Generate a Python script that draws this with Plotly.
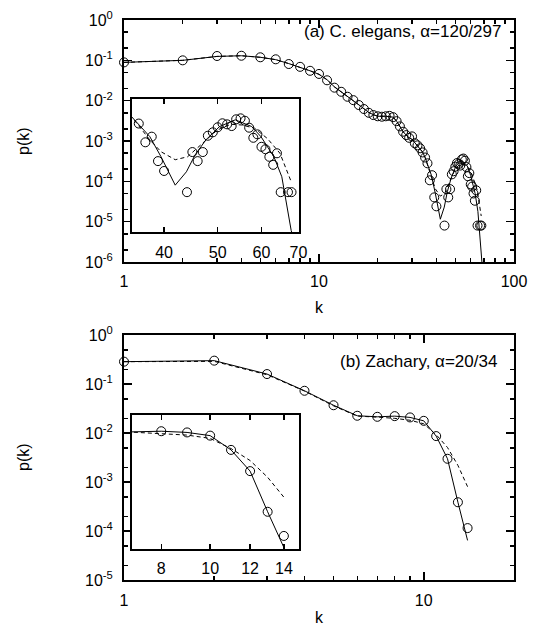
import math
import plotly.graph_objects as go

# ---------------- Panel (a): C. elegans ----------------
ce_k = [1, 2, 3, 4, 5, 6, 7, 8, 9, 10, 11, 12, 13, 14, 15, 16, 17, 18, 19, 20,
        21, 22, 23, 24, 25, 26, 27, 28, 29, 30, 31, 32, 33, 34, 35, 36, 37, 38, 39, 40,
        44, 45, 46, 47, 48, 49, 50, 51, 52, 53, 54, 55, 56, 57, 58, 59, 60, 61, 62, 63,
        64, 65, 67, 68]
ce_p = [0.089, 0.100, 0.128, 0.130, 0.119, 0.106, 0.081, 0.069, 0.055, 0.046,
        0.032, 0.021, 0.0166, 0.0125, 0.0103, 0.0078, 0.0062, 0.0050, 0.0044, 0.0041,
        0.0040, 0.0041, 0.0042, 0.0039, 0.0031, 0.0023, 0.0017, 0.0014, 0.0012, 0.0013,
        8.8e-4, 7.8e-4, 6.6e-4, 5.2e-4, 3.9e-4, 2.8e-4, 1.06e-4, 1.42e-4, 4.0e-5, 2.4e-5,
        8.0e-6, 6.4e-5, 4.0e-5, 6.4e-5, 1.49e-4, 1.78e-4, 2.31e-4, 2.84e-4, 2.69e-4, 2.46e-4,
        3.49e-4, 3.67e-4, 3.24e-4, 2.26e-4, 1.34e-4, 1.60e-4, 8.4e-5, 7.4e-5, 5.0e-5, 3.3e-5,
        6.0e-5, 8.0e-6, 8.0e-6, 8.0e-6]

ce_solid_k = [1, 2, 3, 4, 5, 6, 7, 8, 9, 10, 11, 12, 13, 14, 15, 16, 17, 18, 19, 20,
              22, 24, 25, 26, 27, 28, 29, 30, 31, 32, 33, 34, 35, 37.7, 39.5, 41.9, 43.9,
              45.5, 47.6, 50.4, 53.8, 57.6, 59.9, 63.2, 65.3, 67.9, 69.5]
ce_solid_p = [0.089, 0.100, 0.125, 0.130, 0.119, 0.104, 0.083, 0.068, 0.055, 0.045,
              0.033, 0.022, 0.0167, 0.0127, 0.0102, 0.0079, 0.0063, 0.0051, 0.0045, 0.0041,
              0.0041, 0.0039, 0.0031, 0.0023, 0.0017, 0.0014, 0.0012, 0.0011, 9.2e-4, 7.8e-4,
              6.6e-4, 5.3e-4, 3.9e-4, 1.42e-4, 5.0e-5, 1.15e-5, 2.3e-5,
              5.5e-5, 1.2e-4, 2.4e-4, 3.4e-4, 2.4e-4, 1.41e-4, 5.0e-5, 1.78e-5, 1.1e-6, 4e-7]

ce_dash_k = [1, 2, 3, 4, 5, 6, 7, 8, 9, 10, 11, 12, 13, 14, 15, 16, 17, 18, 19, 20,
             22, 24, 25, 26, 27, 28, 29, 30, 31, 32, 33, 34, 35, 37.7, 39.5, 41.9, 44.1,
             46.9, 49.9, 52.8, 55.3, 58.3, 61.5, 64.8, 67.9]
ce_dash_p = [0.089, 0.100, 0.125, 0.130, 0.119, 0.104, 0.083, 0.068, 0.055, 0.045,
             0.033, 0.022, 0.0167, 0.0127, 0.0102, 0.0079, 0.0063, 0.0051, 0.0045, 0.0041,
             0.0041, 0.0039, 0.0031, 0.0023, 0.0017, 0.0014, 0.0012, 0.0011, 9.2e-4, 7.8e-4,
             6.6e-4, 5.3e-4, 3.9e-4, 1.2e-4, 6.5e-5, 4.3e-5, 5.0e-5,
             1.0e-4, 2.0e-4, 2.7e-4, 2.6e-4, 2.2e-4, 1.29e-4, 6.0e-5, 1.38e-5]

# ---------------- Panel (b): Zachary ----------------
za_k = [1, 2, 3, 4, 5, 6, 7, 8, 9, 10, 11, 12, 13, 14]
za_p = [0.286, 0.30, 0.16, 0.073, 0.037, 0.0226, 0.0215, 0.0222, 0.0209, 0.0178,
        0.0087, 0.0030, 3.9e-4, 1.16e-4]
za_solid_k = [1, 2, 3, 4, 5, 6, 7, 8, 9, 10, 11, 12, 13, 14]
za_solid_p = [0.286, 0.30, 0.16, 0.073, 0.037, 0.0226, 0.0215, 0.0222, 0.0209, 0.0178,
              0.0087, 0.0030, 3.9e-4, 6.5e-5]
za_dash_k = [1, 2, 3, 4, 5, 6, 7, 8, 9, 10, 11, 12, 13, 14]
za_dash_p = [0.286, 0.29, 0.155, 0.072, 0.036, 0.0222, 0.0212, 0.0200, 0.0183, 0.0155,
             0.0093, 0.0051, 0.0022, 8.1e-4]

# ---------------- Ticks / labels ----------------
xa_ticks = [1, 10, 100]
xa_text = ["1", "10", "100"]
ya_exps = [0, -1, -2, -3, -4, -5, -6]
inset_a_ticks = [40, 50, 60, 70]
xb_ticks = [1, 10]
xb_text = ["1", "10"]
yb_exps = [0, -1, -2, -3, -4, -5]
inset_b_ticks = [8, 10, 12, 14]
label_a = "(a) C. elegans, \u03b1=120/297"
label_b = "(b) Zachary, \u03b1=20/34"

W, H = 539, 629
FONT = "Liberation Sans, Arial, sans-serif"


def fx(px):
    return px / W


def fy(py):
    return 1 - py / H


def minor_x(lo, hi):
    vals = []
    for d in range(lo, hi):
        for m in range(2, 10):
            vals.append(m * 10 ** d)
    return vals


def minor_y(lo, hi):
    vals = []
    for d in range(lo, hi):
        for m in (2, 5):
            vals.append(m * 10 ** d)
    return vals


fig = go.Figure()

circ = dict(symbol="circle-open", size=9, color="black", line=dict(width=1, color="black"))
solid = dict(color="black", width=1)
dashed = dict(color="black", width=1, dash="4px,3px")

# main (a)
fig.add_trace(go.Scatter(x=ce_solid_k, y=ce_solid_p, mode="lines", line=solid, xaxis="x", yaxis="y"))
fig.add_trace(go.Scatter(x=ce_dash_k, y=ce_dash_p, mode="lines", line=dashed, xaxis="x", yaxis="y"))
fig.add_trace(go.Scatter(x=ce_k, y=ce_p, mode="markers", marker=circ, cliponaxis=False, xaxis="x", yaxis="y"))

# inset (a)
ia_k = [k for k in ce_k if k >= 35]
ia_p = [p for k, p in zip(ce_k, ce_p) if k >= 35]
fig.add_trace(go.Scatter(x=ce_solid_k, y=ce_solid_p, mode="lines", line=solid, xaxis="x2", yaxis="y2"))
fig.add_trace(go.Scatter(x=ce_dash_k, y=ce_dash_p, mode="lines", line=dashed, xaxis="x2", yaxis="y2"))
fig.add_trace(go.Scatter(x=ia_k, y=ia_p, mode="markers", marker=circ, cliponaxis=False, xaxis="x2", yaxis="y2"))

# main (b)
fig.add_trace(go.Scatter(x=za_solid_k, y=za_solid_p, mode="lines", line=solid, xaxis="x3", yaxis="y3"))
fig.add_trace(go.Scatter(x=za_dash_k, y=za_dash_p, mode="lines", line=dashed, xaxis="x3", yaxis="y3"))
fig.add_trace(go.Scatter(x=za_k, y=za_p, mode="markers", marker=circ, cliponaxis=False, xaxis="x3", yaxis="y3"))

# inset (b)
ib_k = [k for k in za_k if k >= 7]
ib_p = [p for k, p in zip(za_k, za_p) if k >= 7]
fig.add_trace(go.Scatter(x=za_solid_k, y=za_solid_p, mode="lines", line=solid, xaxis="x4", yaxis="y4"))
fig.add_trace(go.Scatter(x=za_dash_k, y=za_dash_p, mode="lines", line=dashed, xaxis="x4", yaxis="y4"))
fig.add_trace(go.Scatter(x=ib_k, y=ib_p, mode="markers", marker=circ, cliponaxis=False, xaxis="x4", yaxis="y4"))

common = dict(showline=True, linecolor="black", linewidth=2, showgrid=False, zeroline=False,
              ticks="inside", tickcolor="black", tickwidth=1.5, automargin=False,
              tickfont=dict(family=FONT, size=16, color="black"))

main_a_x = dict(common, type="log", range=[0, 2], domain=[fx(124), fx(514)], anchor="y",
                mirror="ticks", ticklen=8, tickvals=xa_ticks, ticktext=xa_text,
                minor=dict(tickvals=minor_x(0, 2), ticks="inside", ticklen=4,
                           tickcolor="black", tickwidth=1.5, showgrid=False),
                ticklabelstandoff=4)
main_a_y = dict(common, type="log", range=[-6, 0], domain=[fy(262), fy(20)], anchor="x",
                mirror="ticks", ticklen=8, tickvals=[10 ** e for e in ya_exps],
                ticktext=["10<sup>%d</sup>" % e for e in ya_exps],
                minor=dict(tickvals=minor_y(-6, 0), ticks="inside", ticklen=4,
                           tickcolor="black", tickwidth=1.5, showgrid=False),
                ticklabelstandoff=6)
ins_a_x = dict(common, type="log", range=[math.log10(35), math.log10(70)],
               domain=[fx(132), fx(298.5)], anchor="y2", mirror="ticks", ticklen=5,
               tickvals=inset_a_ticks, ticktext=[str(t) for t in inset_a_ticks],
               ticklabelstandoff=4)
ins_a_y = dict(common, type="log", range=[-6, -3], domain=[fy(232.3), fy(99)], anchor="x2",
               mirror=True, ticks="", showticklabels=False)

main_b_x = dict(common, type="log", range=[0, math.log10(20)], domain=[fx(124), fx(514)],
                anchor="y3", mirror="ticks", ticklen=8, tickvals=xb_ticks, ticktext=xb_text,
                minor=dict(tickvals=minor_x(0, 2), ticks="inside", ticklen=4,
                           tickcolor="black", tickwidth=1.5, showgrid=False),
                ticklabelstandoff=4)
main_b_y = dict(common, type="log", range=[-5, 0], domain=[fy(580.3), fy(335)], anchor="x3",
                mirror="ticks", ticklen=8, tickvals=[10 ** e for e in yb_exps],
                ticktext=["10<sup>%d</sup>" % e for e in yb_exps],
                minor=dict(tickvals=minor_y(-5, 0), ticks="inside", ticklen=4,
                           tickcolor="black", tickwidth=1.5, showgrid=False),
                ticklabelstandoff=6)
ins_b_x = dict(common, type="log", range=[math.log10(7), math.log10(15)],
               domain=[fx(132), fx(299)], anchor="y4", mirror="ticks", ticklen=5,
               tickvals=inset_b_ticks, ticktext=[str(t) for t in inset_b_ticks],
               ticklabelstandoff=4)
ins_b_y = dict(common, type="log", range=[-4.22, -1.30], domain=[fy(549), fy(415)], anchor="x4",
               mirror=True, ticks="", showticklabels=False)

txt = dict(family=FONT, size=16, color="black")
annotations = [
    dict(text=label_a, x=fx(503), y=fy(32), xref="paper", yref="paper",
         xanchor="right", yanchor="middle", showarrow=False, font=dict(family=FONT, size=17, color="black")),
    dict(text=label_b, x=fx(499), y=fy(361), xref="paper", yref="paper",
         xanchor="right", yanchor="middle", showarrow=False, font=dict(family=FONT, size=17, color="black")),
    dict(text="p(k)", x=fx(23), y=fy(141), xref="paper", yref="paper", textangle=-90,
         xanchor="center", yanchor="middle", showarrow=False, font=txt),
    dict(text="p(k)", x=fx(23), y=fy(457), xref="paper", yref="paper", textangle=-90,
         xanchor="center", yanchor="middle", showarrow=False, font=txt),
    dict(text="k", x=fx(319), y=fy(308), xref="paper", yref="paper",
         xanchor="center", yanchor="middle", showarrow=False, font=txt),
    dict(text="k", x=fx(319), y=fy(617), xref="paper", yref="paper",
         xanchor="center", yanchor="middle", showarrow=False, font=txt),
]

fig.update_layout(
    template="none",
    width=W, height=H, autosize=False,
    margin=dict(l=0, r=0, t=0, b=0, pad=0),
    paper_bgcolor="white", plot_bgcolor="white",
    showlegend=False,
    font=dict(family=FONT, size=16, color="black"),
    xaxis=main_a_x, yaxis=main_a_y,
    xaxis2=ins_a_x, yaxis2=ins_a_y,
    xaxis3=main_b_x, yaxis3=main_b_y,
    xaxis4=ins_b_x, yaxis4=ins_b_y,
    annotations=annotations,
)

fig.write_html("out.html", config={"displayModeBar": False, "staticPlot": True},
               post_script="document.body.style.margin='0px';document.body.style.overflow='hidden';")
